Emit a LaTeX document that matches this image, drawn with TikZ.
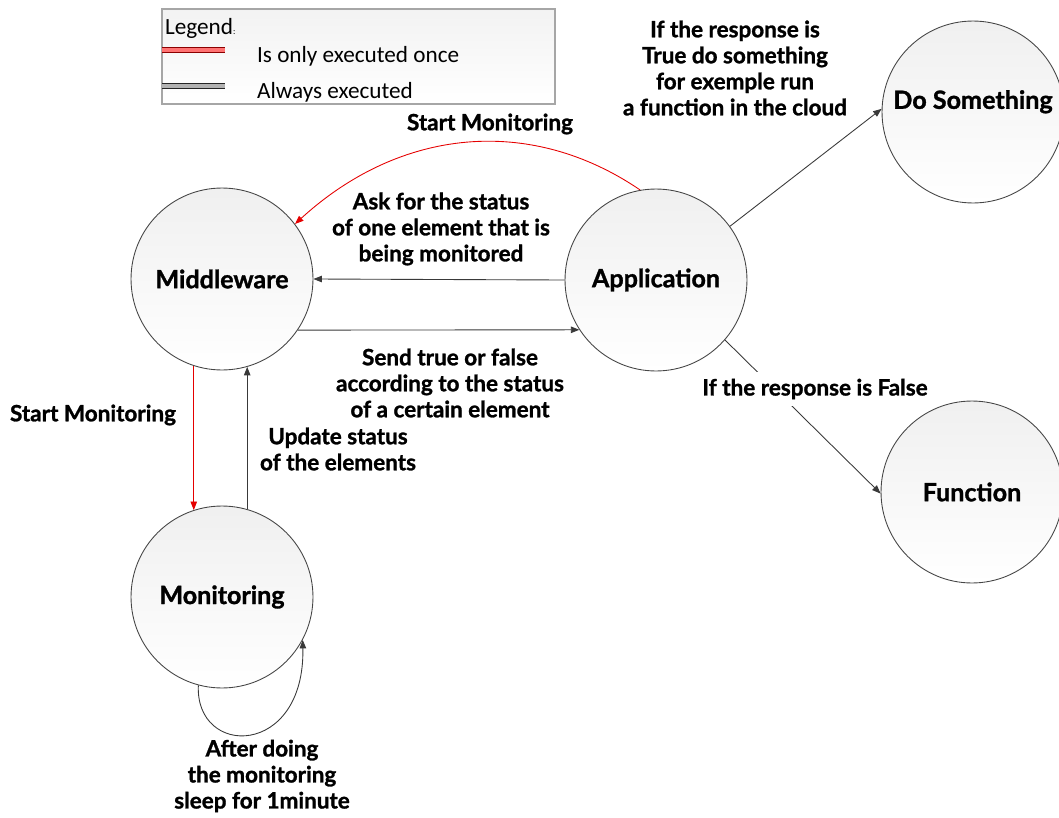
\documentclass[tikz,border=0pt]{standalone}
\usepackage{fontspec}
\setmainfont{Lato}[BoldFeatures={FakeBold=1.2}]
\newfontfamily\legendfont{Carlito}
\usetikzlibrary{arrows.meta, positioning, calc}

\begin{document}
\begin{tikzpicture}[
  x=0.02cm, y=-0.02cm,
  state/.style={circle, draw=gray!55!black, line width=0.5pt, minimum size=3.64cm, inner sep=0pt,
    top color=gray!12, bottom color=white, font=\fontsize{14.3}{17}\selectfont\bfseries},
  msg/.style={font=\fontsize{12.8}{14.8}\selectfont\bfseries, align=center},
  legtext/.style={font=\legendfont\fontsize{13.2}{15}\selectfont, anchor=west, inner sep=1pt},
  always/.style={-{Triangle[length=1.7mm, width=1.3mm]}, gray!45!black, line width=0.5pt},
  once/.style={-{Triangle[length=1.7mm, width=1.3mm]}, red!90!black, line width=0.5pt}
]
\useasboundingbox (0,0) rectangle (1059,818);

% Legend
\draw[gray!70, line width=0.6pt, top color=gray!10, bottom color=white] (162,9) rectangle (555,104);
\node[legtext] (legtitle) at (163,28) {Legend{\tiny :}};
\draw[line width=3.2pt, red!55!black] (162,50) -- (225,50);
\draw[line width=2pt, red!55] (162,50) -- (225,50);
\draw[line width=3.2pt, gray!30!black] (162,86) -- (225,86);
\draw[line width=2pt, gray!60] (162,86) -- (225,86);
\node[legtext] (legonce) at (255,56) {Is only executed once};
\node[legtext] (legalways) at (255,92) {Always executed};

% States
\node[state] (mw) at (222,279) {Middleware};
\node[state] (app) at (656,280) {Application};
\node[state] (mon) at (222,597) {Monitoring};
\node[state] (dos) at (973,112) {\raisebox{0.5cm}{Do Something}};
\node[state] (fn) at (972,492) {Function};

% Connectors
\draw[once] (app.100) .. controls (530,115) and (400,128) .. (mw.37);
\draw[always] (app.west) -- (mw.east);
\draw[always] (mw.-34) -- (app.213);
\draw[always] (app.36) -- (dos.178);
\draw[always] (app.-41) -- (fn.181);
\draw[once] (mw.-108) -- (mon.108);
\draw[always] (mon.74) -- (mw.-74);
\draw[always] (mon.-105) .. controls (195,758) and (305,758) .. (mon.-28);

% Labels
\node[msg] (lstart) at (490,124) {Start Monitoring};
\node[msg] (ltrue) at (735,68) {If the response is\\True do something\\for exemple run\\a function in the cloud};
\node[msg] (lask) at (441,229) {Ask for the status\\of one element that is\\being monitored};
\node[msg] (lsend) at (450,383) {Send true or false\\according to the status\\of a certain element};
\node[msg, fill=white, inner sep=4pt] (lfalse) at (815,389) {If the response is False};
\node[msg] (lstartmon) at (93,415) {Start Monitoring};
\node[msg] (lupdate) at (338,449) {Update status\\of the elements};
\node[msg] (lsleep) at (262,776) {After doing\\the monitoring\\sleep for 1minute};

\end{tikzpicture}
\end{document}
